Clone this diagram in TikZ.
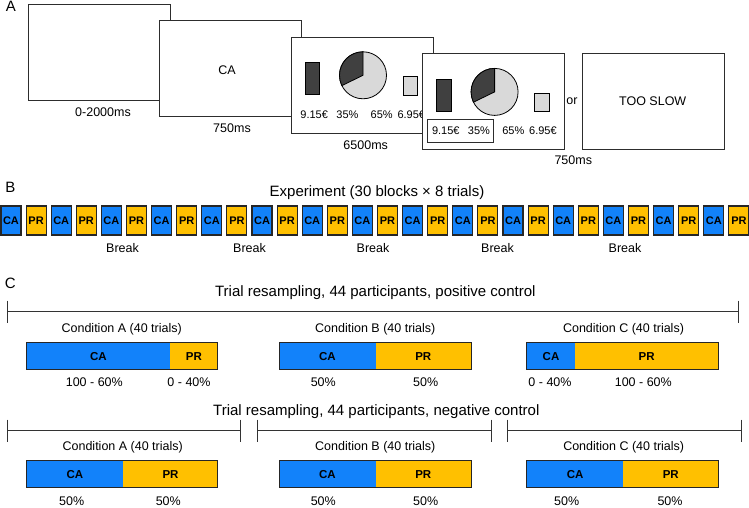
\documentclass[tikz,border=0pt]{standalone}
\usepackage{fontspec}
\setmainfont{Liberation Sans}
\definecolor{cablue}{RGB}{18,130,250}
\definecolor{pryel}{RGB}{255,192,0}
\definecolor{darkpie}{RGB}{64,64,64}
\definecolor{lightpie}{RGB}{217,217,217}
\definecolor{edge}{RGB}{45,45,45}
\begin{document}
\begin{tikzpicture}[x=1pt,y=-1pt,
  txt/.style={inner sep=0pt, text height=0.72em, text depth=0pt},
  t12/.style={txt, font=\fontsize{12.5}{14}\selectfont},
  t11/.style={txt, font=\fontsize{11}{12}\selectfont},
  t15/.style={txt, font=\fontsize{15}{18}\selectfont},
  screen/.style={draw=edge, line width=1pt, fill=white, rectangle, inner sep=0pt, minimum width=142pt, minimum height=96pt},
  sq/.style={draw=black!85, line width=1.1pt, rectangle, inner sep=0pt, minimum width=20pt, minimum height=29pt, font=\fontsize{11}{12}\bfseries\selectfont},
  seg/.style={rectangle, inner sep=0pt, minimum height=26.5pt, font=\fontsize{11.5}{13}\bfseries\selectfont},
  barline/.style={draw=black!85, line width=1.1pt},
  rule/.style={draw=black!80, line width=0.9pt}]
\useasboundingbox (0,0) rectangle (749,508);

% ---------- Panel A ----------
\node[t15] (lA) at (11,7.5) {A};
\node[screen] (s1) at (99.7,52.9) {};
\node[screen] (s2) at (230.7,69) {};
\node[t12] (ca) at (227,71) {CA};
\node[t12] (d1) at (103,113) {0-2000ms};
\node[t12] (d2) at (232,129) {750ms};
\foreach \ox/\oy/\nm in {290.7/36.7/p, 422.3/53.3/q}{
  \begin{scope}[shift={(\ox,\oy)}]
    \node[screen, anchor=north west] (\nm box) at (0,0) {};
    \node[draw=black, line width=0.8pt, fill=darkpie, rectangle, inner sep=0pt, minimum width=14.5pt, minimum height=32pt] (\nm dark) at (21.8,42.2) {};
    \node[circle, draw=black, line width=0.8pt, fill=lightpie, inner sep=0pt, minimum size=47pt] (\nm pie) at (72.3,38.6) {};
    \filldraw[fill=darkpie, draw=black, line width=0.8pt] (\nm pie.center) -- ++(0pt,23.5pt) arc[start angle=90, end angle=206, radius=23.5pt] -- cycle;
    \node[draw=black, line width=0.8pt, fill=lightpie, rectangle, inner sep=0pt, minimum width=14.4pt, minimum height=18.3pt] (\nm light) at (119.5,49.2) {};
    \node[t11] (\nm v1) at (23.5,77.9) {9.15€};
    \node[t11] (\nm v2) at (56.7,77.9) {35\%};
    \node[t11] (\nm v3) at (91,77.9) {65\%};
    \node[t11] (\nm v4) at (120.6,77.9) {6.95€};
  \end{scope}
}
\draw[draw=edge, line width=1pt] (427,120) rectangle (493.3,142.7);
\node[t12] (d3) at (365.7,146) {6500ms};
\node[t12] (or) at (572,100.7) {or};
\node[screen] (s5) at (653.15,101.15) {};
\node[t12] (slow) at (652.7,101.7) {TOO SLOW};
\node[t12] (d4) at (573.3,160.7) {750ms};

% ---------- Panel B ----------
\node[t15] (lB) at (10.3,189.3) {B};
\node[t15] (exp) at (377,192.5) {Experiment (30 blocks × 8 trials)};
\foreach \i in {0,...,29}{
  \pgfmathsetmacro{\cx}{11+25.1*\i}
  \ifodd\i
    \node[sq, fill=pryel] (b\i) at (\cx,220.5) {PR};
  \else
    \node[sq, fill=cablue] (b\i) at (\cx,220.5) {CA};
  \fi
}
\foreach \bx [count=\k] in {122.5,249.5,373,497.5,625}{
  \node[t12] (brk\k) at (\bx,249) {Break};
}

% ---------- Panel C ----------
\node[t15] (lC) at (10.3,285) {C};
\node[t15] (tpos) at (375.3,293.3) {Trial resampling, 44 participants, positive control};
\coordinate (pl) at (7.3,311.7);
\coordinate (pr) at (738.3,311.7);
\draw[rule] (pl) -- (pr);
\draw[rule] ([yshift=11pt]pl) -- ([yshift=-11pt]pl);
\draw[rule] ([yshift=11pt]pr) -- ([yshift=-11pt]pr);

\node[t12] (cpa) at (121.7,329.3) {Condition A (40 trials)};
\node[t12] (cpb) at (375.3,329.3) {Condition B (40 trials)};
\node[t12] (cpc) at (623.5,329.3) {Condition C (40 trials)};

\node[seg, fill=cablue, minimum width=143.3pt] (pa1) at (98.35,356.3) {CA};
\node[seg, fill=pryel, minimum width=47.7pt] (pa2) at (193.85,356.3) {PR};
\draw[barline] (pa1.north west) rectangle (pa2.south east);
\node[seg, fill=cablue, minimum width=96.2pt] (pb1) at (327.4,356.3) {CA};
\node[seg, fill=pryel, minimum width=95.5pt] (pb2) at (423.25,356.3) {PR};
\draw[barline] (pb1.north west) rectangle (pb2.south east);
\node[seg, fill=cablue, minimum width=48pt] (pc1) at (551,356.3) {CA};
\node[seg, fill=pryel, minimum width=143.3pt] (pc2) at (646.65,356.3) {PR};
\draw[barline] (pc1.north west) rectangle (pc2.south east);

\node[t12] (ppa1) at (94.3,383.3) {100 - 60\%};
\node[t12] (ppa2) at (189,383.3) {0 - 40\%};
\node[t12] (ppb1) at (323.3,383.3) {50\%};
\node[t12] (ppb2) at (425.7,383.3) {50\%};
\node[t12] (ppc1) at (550,383.3) {0 - 40\%};
\node[t12] (ppc2) at (643.3,383.3) {100 - 60\%};

\node[t15] (tneg) at (376.3,411.7) {Trial resampling, 44 participants, negative control};
\foreach \a/\b/\n in {7.3/240.7/1, 257.7/491/2, 507.3/741/3}{
  \coordinate (nl\n) at (\a,430.7);
  \coordinate (nr\n) at (\b,430.7);
  \draw[rule] (nl\n) -- (nr\n);
  \draw[rule] ([yshift=11pt]nl\n) -- ([yshift=-11pt]nl\n);
  \draw[rule] ([yshift=11pt]nr\n) -- ([yshift=-11pt]nr\n);
}
\node[t12] (cna) at (122.7,446.7) {Condition A (40 trials)};
\node[t12] (cnb) at (375.3,446.7) {Condition B (40 trials)};
\node[t12] (cnc) at (623.7,446.7) {Condition C (40 trials)};

\node[seg, fill=cablue, minimum width=96.6pt] (na1) at (75,474.3) {CA};
\node[seg, fill=pryel, minimum width=94.4pt] (na2) at (170.5,474.3) {PR};
\draw[barline] (na1.north west) rectangle (na2.south east);
\node[seg, fill=cablue, minimum width=96.2pt] (nb1) at (327.4,474.3) {CA};
\node[seg, fill=pryel, minimum width=95.5pt] (nb2) at (423.25,474.3) {PR};
\draw[barline] (nb1.north west) rectangle (nb2.south east);
\node[seg, fill=cablue, minimum width=96.3pt] (nc1) at (575.15,474.3) {CA};
\node[seg, fill=pryel, minimum width=95pt] (nc2) at (670.8,474.3) {PR};
\draw[barline] (nc1.north west) rectangle (nc2.south east);

\node[t12] (npa1) at (71.7,501.7) {50\%};
\node[t12] (npa2) at (168.3,501.7) {50\%};
\node[t12] (npb1) at (323.3,501.7) {50\%};
\node[t12] (npb2) at (425.7,501.7) {50\%};
\node[t12] (npc1) at (566.7,501.7) {50\%};
\node[t12] (npc2) at (670,501.7) {50\%};
\end{tikzpicture}
\end{document}
